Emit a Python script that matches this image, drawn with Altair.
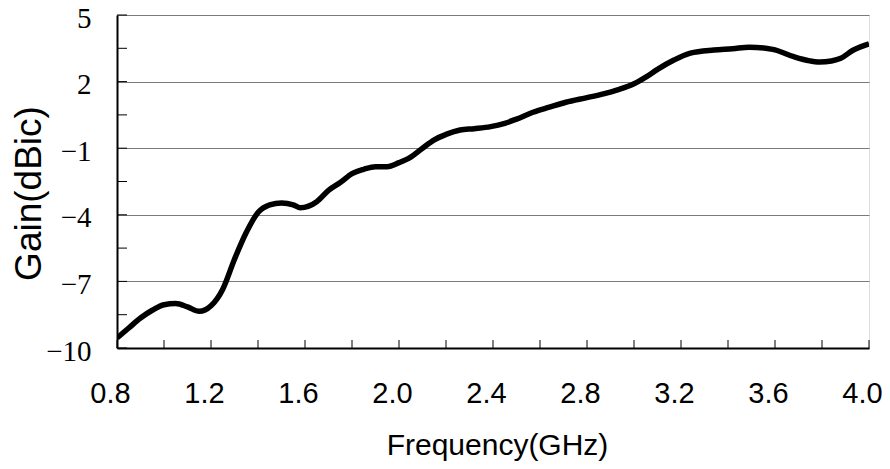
import altair as alt
import pandas as pd

# Gain curve
freq = [0.80, 0.85, 0.90, 0.95, 1.00, 1.05, 1.10, 1.15, 1.20, 1.25, 1.30, 1.35, 1.40, 1.45,
        1.50, 1.55, 1.58, 1.65, 1.70, 1.75, 1.80, 1.85, 1.90, 1.95, 2.00, 2.05, 2.10, 2.15,
        2.20, 2.26, 2.32, 2.39, 2.45, 2.50, 2.57, 2.64, 2.71, 2.80, 2.87, 2.93, 3.00, 3.05,
        3.10, 3.17, 3.24, 3.34, 3.42, 3.49, 3.59, 3.68, 3.74, 3.79, 3.84, 3.88, 3.93, 4.00]
gain = [-9.55, -9.1, -8.65, -8.3, -8.05, -8.0, -8.15, -8.35, -8.1, -7.35, -6.0, -4.8, -3.9, -3.55,
        -3.47, -3.55, -3.68, -3.41, -2.9, -2.55, -2.15, -1.95, -1.83, -1.83, -1.65, -1.4, -1.0, -0.62,
        -0.38, -0.18, -0.12, -0.03, 0.12, 0.31, 0.62, 0.85, 1.07, 1.28, 1.45, 1.63, 1.9, 2.2,
        2.55, 2.97, 3.28, 3.42, 3.48, 3.55, 3.45, 3.12, 2.95, 2.88, 2.93, 3.05, 3.4, 3.7]

x_labels = [0.8, 1.2, 1.6, 2.0, 2.4, 2.8, 3.2, 3.6, 4.0]
x_minor = [0.8, 1.0, 1.2, 1.4, 1.6, 1.8, 2.0, 2.2, 2.4, 2.6, 2.8, 3.0, 3.2, 3.4, 3.6, 3.8, 4.0]
y_labels = [-10, -7, -4, -1, 2, 5]
y_minor = [-10, -8.5, -7, -5.5, -4, -2.5, -1, 0.5, 2, 3.5, 5]

W, H = 752, 333

df = pd.DataFrame({"f": freq, "g": gain})
dfx = pd.DataFrame({"f": x_minor})
dfy = pd.DataFrame({"g": y_minor})

xscale = alt.Scale(domain=[0.8, 4.0], nice=False, zero=False)
yscale = alt.Scale(domain=[-10, 5], nice=False, zero=False)

xaxis = alt.Axis(
    values=x_labels, format=".1f", title="Frequency(GHz)",
    grid=False, ticks=False, tickSize=0, domainColor="black", domainWidth=2,
    labelFont="Liberation Sans", labelFontSize=29, labelColor="black",
    labelPadding=31, labelBaseline="top", labelFlush=False, labelOffset=-7,
    titleFont="Liberation Sans", titleFontSize=30, titleFontWeight="normal", titleColor="black",
    titleBaseline="alphabetic", titleY=106, titleX=380)
yaxis = alt.Axis(
    values=y_labels, format="d", title="Gain(dBic)",
    grid=True, gridColor="#7a7a7a", gridWidth=1,
    ticks=False, tickSize=0, domainColor="black", domainWidth=2,
    labelFont="Liberation Serif", labelFontSize=29, labelColor="black",
    labelPadding=26, labelBaseline="middle", labelFlush=False, labelOffset=3,
    titleFont="Liberation Sans", titleFontSize=37, titleFontWeight="normal", titleColor="black",
    titleAngle=270, titleAlign="center", titleBaseline="middle", titleX=-88, titleY=178)

line = alt.Chart(df).mark_line(color="black", strokeWidth=5.5, interpolate="monotone", clip=True).encode(
    x=alt.X("f:Q", scale=xscale, axis=xaxis),
    y=alt.Y("g:Q", scale=yscale, axis=yaxis),
)

xt = alt.Chart(dfx).mark_rule(color="black", strokeWidth=1).encode(
    x=alt.X("f:Q", scale=xscale, axis=xaxis),
    y=alt.value(H - 8), y2=alt.value(H),
)

yt = alt.Chart(dfy).mark_rule(color="black", strokeWidth=1).encode(
    y=alt.Y("g:Q", scale=yscale, axis=yaxis),
    x=alt.value(0), x2=alt.value(10),
)

chart = alt.layer(xt, yt, line).properties(
    width=W, height=H,
    autosize=alt.AutoSizeParams(type="none"),
    padding={"left": 109, "top": 7, "right": 13, "bottom": 113},
).configure_view(stroke="#8a8a8a", strokeWidth=1.5).configure(background="white")

chart.save("out.html", embed_options={"renderer": "svg", "actions": False})
